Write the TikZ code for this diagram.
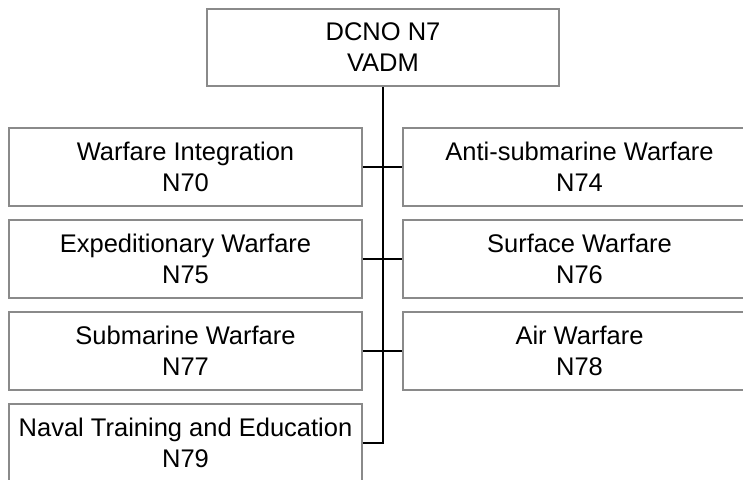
\documentclass[tikz,border=0pt]{standalone}
\usepackage{fontspec}
\setmainfont{Liberation Sans}
\definecolor{boxgray}{HTML}{8A8A8A}
\tikzset{
  unit/.style={draw=boxgray, line width=1.6pt, fill=white, minimum width=353pt,
    minimum height=78pt, inner sep=0pt, align=center,
    font=\fontsize{25.5}{31}\selectfont},
  link/.style={draw=black, line width=2pt}
}
\begin{document}
\begin{tikzpicture}[x=1pt,y=-1pt]
\useasboundingbox (0,0) rectangle (743,479);
\clip (0,0) rectangle (743,479);
\node[unit, minimum width=352pt, minimum height=77pt] (top) at (383,47.5) {DCNO N7\\VADM};
\node[unit] (n70) at (185.5,167) {Warfare Integration\\N70};
\node[unit] (n74) at (579.5,167) {Anti-submarine Warfare\\N74};
\node[unit] (n75) at (185.5,259) {Expeditionary Warfare\\N75};
\node[unit] (n76) at (579.5,259) {Surface Warfare\\N76};
\node[unit] (n77) at (185.5,351) {Submarine Warfare\\N77};
\node[unit] (n78) at (579.5,351) {Air Warfare\\N78};
\node[unit] (n79) at (185.5,443) {Naval Training and Education\\N79};
\coordinate (trunkend) at (382.5,443);
\draw[link] (top.south -| trunkend) -- (trunkend) -- (n79.east);
\draw[link] (n70.east) -- (n74.west);
\draw[link] (n75.east) -- (n76.west);
\draw[link] (n77.east) -- (n78.west);
\end{tikzpicture}
\end{document}
